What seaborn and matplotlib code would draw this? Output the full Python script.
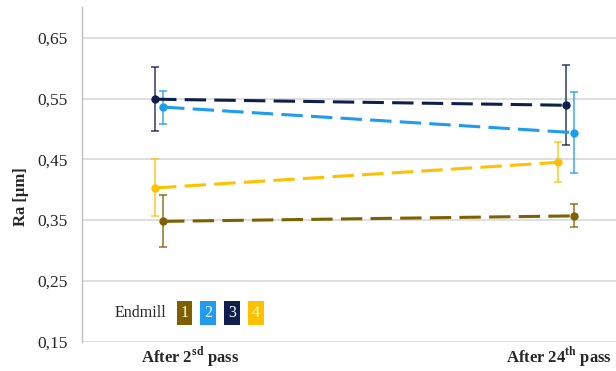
import matplotlib
matplotlib.use("Agg")
import matplotlib.pyplot as plt
import seaborn as sns
import pandas as pd
import numpy as np

# Surface roughness per endmill, after the 2nd and the 24th pass
stages = ["After 2sd pass", "After 24th pass"]
endmills = ["1", "2", "3", "4"]
ra_mean = {
    "1": [0.348, 0.357],
    "2": [0.536, 0.494],
    "3": [0.549, 0.539],
    "4": [0.403, 0.445],
}
ra_err = {
    "1": [0.043, 0.019],
    "2": [0.027, 0.067],
    "3": [0.053, 0.066],
    "4": [0.047, 0.033],
}
yticks = [0.15, 0.25, 0.35, 0.45, 0.55, 0.65]

# small horizontal shifts so overlapping error bars stay readable
dodge = {
    "1": [0.0195, 0.0195],
    "2": [0.0195, 0.0195],
    "3": [0.0, 0.0],
    "4": [0.0, -0.0195],
}
palette = {"1": "#7F6000", "2": "#1F9BF0", "3": "#0E1F4D", "4": "#FFC000"}

rows = []
for e in endmills:
    for i in range(len(stages)):
        rows.append({"Endmill": e, "x": i + dodge[e][i],
                     "Ra": ra_mean[e][i], "err": ra_err[e][i]})
df = pd.DataFrame(rows)

sns.set_theme(style="white")
plt.rcParams["font.family"] = ["Liberation Serif", "DejaVu Serif"]
plt.rcParams["mathtext.fontset"] = "custom"
plt.rcParams["mathtext.rm"] = "Liberation Serif"
plt.rcParams["mathtext.bf"] = "Liberation Serif:bold"

fig = plt.figure(figsize=(6.16, 3.71), dpi=100)
ax = fig.add_axes([0.133, 0.079, 0.867, 0.901])

for v in yticks:
    ax.axhline(v, color="#D9D9D9", lw=1.2, zorder=0)

sns.lineplot(data=df, x="x", y="Ra", hue="Endmill", palette=palette,
             style="Endmill", dashes={e: (7, 2.7) for e in endmills},
             lw=2.2, marker="o", markersize=6, markeredgewidth=0,
             legend=False, ax=ax, zorder=3)

for e in endmills:
    sub = df[df["Endmill"] == e]
    ax.errorbar(sub["x"], sub["Ra"], yerr=sub["err"], fmt="none",
                ecolor=palette[e], elinewidth=1.2, capsize=3, capthick=1.2,
                alpha=0.8, zorder=2)

ax.set_xlim(-0.178, 1.122)
ax.set_ylim(0.15, 0.70)
ax.set_yticks(yticks)
ax.set_yticklabels([f"{v:.2f}".replace(".", ",") for v in yticks], fontsize=12.5)
ax.tick_params(axis="y", length=0, pad=10)
ax.set_xticks([])
ax.set_xlabel("")
ax.set_ylabel("")
for s in ["top", "right", "bottom"]:
    ax.spines[s].set_visible(False)
ax.spines["left"].set_color("#BFBFBF")
ax.spines["left"].set_linewidth(1.0)

# axis title
fig.text(21 / 616, 1 - 197 / 371, "Ra [µm]", rotation=90, ha="center", va="center",
         fontsize=12, fontweight="bold")

# category labels under the axis
fig.text(190 / 616, 14 / 371, r"After 2$^{\mathbf{sd}}$ pass",
         ha="center", va="center", fontsize=12, fontweight="bold")
fig.text(559 / 616, 14 / 371, r"After 24$^{\mathbf{th}}$ pass",
         ha="center", va="center", fontsize=12, fontweight="bold")

# legend row
fig.text(115 / 616, 1 - 313 / 371, "Endmill", ha="left", va="center", fontsize=11.5)
for k, e in enumerate(endmills):
    fig.text((184.5 + k * 23.7) / 616, 1 - 313 / 371, e, ha="center", va="center",
             fontsize=11.5, color="white",
             bbox=dict(boxstyle="square,pad=0.25", fc=palette[e], ec="none"))

fig.savefig("out.png", dpi=100)
